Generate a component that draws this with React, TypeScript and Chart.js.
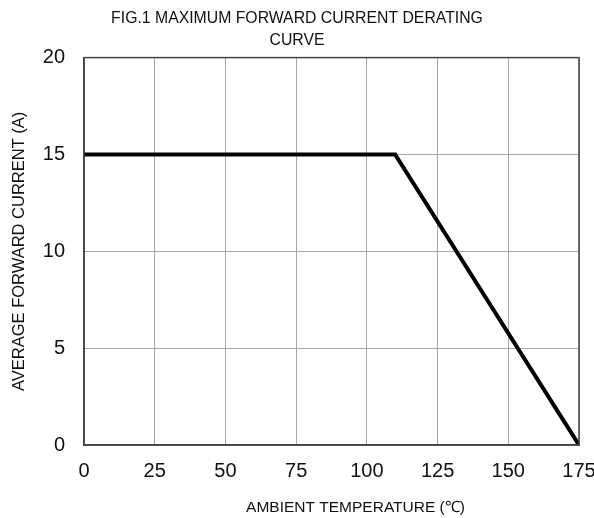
import React, { useEffect, useRef } from "react";
import { Chart, registerables } from "chart.js";

Chart.register(...registerables);

const temperatures = [0, 110, 175];
const currents = [15, 15, 0];
const xTicks = [0, 25, 50, 75, 100, 125, 150, 175];
const yTicks = [0, 5, 10, 15, 20];
const xTitle = "AMBIENT TEMPERATURE (℃)";
const yTitle = "AVERAGE FORWARD CURRENT (A)";
const chartTitle = ["FIG.1 MAXIMUM FORWARD CURRENT DERATING", "CURVE"];

const FONT = "Liberation Sans, Arial, sans-serif";

export default function App() {
  const ref = useRef<HTMLCanvasElement | null>(null);
  useEffect(() => {
    document.body.style.margin = "0";
    const ctx = ref.current!;
    const chart = new Chart(ctx, {
      type: "scatter",
      data: {
        datasets: [
          {
            data: temperatures.map((t, i) => ({ x: t, y: currents[i] })),
            showLine: true,
            borderColor: "#000",
            borderWidth: 4,
            pointRadius: 0,
            fill: false,
          },
        ],
      },
      options: {
        animation: false,
        responsive: false,
        layout: { padding: { left: 0, right: 0, top: 0, bottom: 0 } },
        plugins: {
          legend: { display: false },
          tooltip: { enabled: false },
          title: {
            display: true,
            text: chartTitle,
            color: "#111",
            font: { family: FONT, size: 15.8, weight: "normal", lineHeight: 1.38 },
            padding: { top: 8, bottom: 6 },
          },
        },
        scales: {
          x: {
            type: "linear",
            min: 0,
            max: 175,
            afterBuildTicks: (axis: any) => {
              axis.ticks = xTicks.map((v) => ({ value: v }));
            },
            afterFit: (axis: any) => {
              axis.height = 73;
              axis.paddingLeft = 0;
              axis.paddingRight = 15;
            },
            ticks: {
              color: "#111",
              font: { family: FONT, size: 20 },
              padding: 14,
              maxRotation: 0,
            },
            grid: { color: "#a8a8a8", lineWidth: 1, drawTicks: false },
            border: { color: "#444", width: 1.5 },
            title: { display: false },
          },
          y: {
            type: "linear",
            min: 0,
            max: 20,
            afterBuildTicks: (axis: any) => {
              axis.ticks = yTicks.map((v) => ({ value: v }));
            },
            afterFit: (axis: any) => {
              axis.width = 84;
              axis.paddingTop = 0;
              axis.paddingBottom = 0;
            },
            ticks: {
              color: "#111",
              font: { family: FONT, size: 20 },
              padding: 19,
            },
            grid: { color: "#a8a8a8", lineWidth: 1, drawTicks: false },
            border: { color: "#444", width: 1.5 },
            title: {
              display: true,
              text: yTitle,
              color: "#111",
              font: { family: FONT, size: 16.5 },
              padding: { top: 10, bottom: 10 },
            },
          },
        },
      },
      plugins: [
        {
          id: "frame",
          afterDraw(c: any) {
            const { ctx: g, chartArea: a } = c;
            g.save();
            g.strokeStyle = "#444";
            g.lineWidth = 1.5;
            g.strokeRect(a.left, a.top, a.right - a.left, a.bottom - a.top);
            g.fillStyle = "#111";
            g.font = `15.5px ${FONT}`;
            g.textAlign = "center";
            g.textBaseline = "middle";
            g.fillText(xTitle, (a.left + a.right) / 2 + 24, c.height - 10);
            g.restore();
          },
        },
      ],
    } as any);
    return () => chart.destroy();
  }, []);
  return (
    <div style={{ width: 594, height: 518, background: "#fff" }}>
      <canvas ref={ref} width={594} height={518} />
    </div>
  );
}
